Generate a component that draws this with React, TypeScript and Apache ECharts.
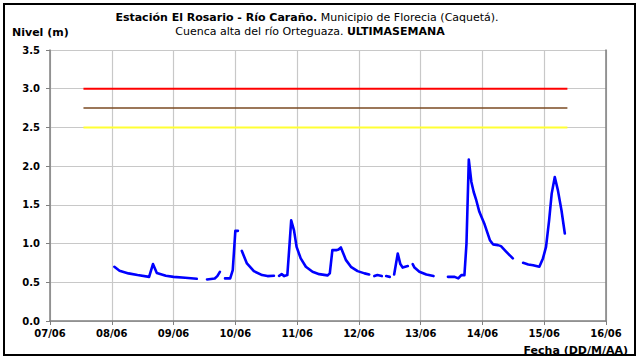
import React, { useEffect, useRef } from "react";
import * as echarts from "echarts";

// Hours since 07/06 00:00 (null level = gap in record)
const hours = [
  25, 27, 30.5, 34, 38.5, 40, 41.5, 45, 48, 52.5, 57, 59,
  61, 64, 65, 66, 66.8,
  68, 70, 71, 72, 73, 73.5,
  74.5, 76.5, 79.2, 82.4, 84.5, 87, 87.5,
  89, 90, 91, 92.2, 92.9, 93.7, 94.8, 95.8, 97.4, 99.4, 102, 104.6, 107.8, 108.7,
  109.7, 111.4, 112.1, 113, 115, 116.9, 119.5, 122.2, 124, 125,
  126, 127.2, 128.9, 129.8,
  130.6, 132, 132.8,
  133.7, 135.1, 136.1, 137, 139, 140,
  140.9, 141.6, 143.5, 146.2, 149, 151,
  154.6, 157.2, 158.6, 159.8, 161, 161.8, 162.7, 163.7, 164.6, 165.6, 166.8,
  168.7, 170.9, 172.1, 174, 175.2, 177.1, 179.8, 181.5,
  183.8, 185.8, 187.7, 190.1, 191.5, 192.7, 193.9, 194.9, 196.1, 197.3, 198.7, 200,
];
const levels = [
  0.70, 0.65, 0.615, 0.593, 0.57, 0.735, 0.62, 0.584, 0.57, 0.558, 0.545, null,
  0.537, 0.55, 0.58, 0.635, null,
  0.55, 0.55, 0.657, 1.164, 1.164, null,
  0.906, 0.743, 0.644, 0.593, 0.58, 0.584, null,
  0.584, 0.605, 0.58, 0.593, 0.915, 1.30, 1.17, 0.957, 0.808, 0.70, 0.635, 0.605, 0.589, 0.615,
  0.915, 0.915, 0.924, 0.95, 0.786, 0.70, 0.644, 0.615, 0.60, null,
  0.58, 0.593, 0.58, null,
  0.58, 0.57, null,
  0.60, 0.872, 0.735, 0.69, 0.71, null,
  0.735, 0.69, 0.635, 0.60, 0.58, null,
  0.57, 0.57, 0.55, 0.593, 0.593, 1.0, 2.084, 1.795, 1.666, 1.56, 1.41,
  1.26, 1.044, 0.99, 0.98, 0.967, 0.90, 0.808, null,
  0.751, 0.73, 0.72, 0.70, 0.808, 0.957, 1.30, 1.645, 1.86, 1.69, 1.43, 1.13,
];

const tickLabels = ["07/06", "08/06", "09/06", "10/06", "11/06", "12/06", "13/06", "14/06", "15/06", "16/06"];
const yTicks = [0, 0.5, 1, 1.5, 2, 2.5, 3, 3.5];

// Alert thresholds (m) and their drawn span (hours)
const thresholdSpan = [13, 201];
const redLevel = 3.0;
const brownLevel = 2.75;
const yellowLevel = 2.5;

const FONT = "DejaVu Sans";

export default function App() {
  const ref = useRef<HTMLDivElement>(null);
  useEffect(() => {
    document.body.style.margin = "0";
    const chart = echarts.init(ref.current!, null, { renderer: "svg" });
    const data = hours.map((h, i) => [h, levels[i]]);
    const thr = (v: number) => thresholdSpan.map((h) => [h, v]);
    chart.setOption({
      animation: false,
      backgroundColor: "#ffffff",
      grid: { left: 50, right: 34, top: 50, bottom: 43 },
      xAxis: {
        type: "value",
        min: 0,
        max: 216,
        interval: 24,
        axisLine: { show: true, lineStyle: { color: "#7f7f7f", width: 1.5 } },
        axisTick: { show: true, length: 4, lineStyle: { color: "#7f7f7f" } },
        splitLine: { show: true, lineStyle: { color: "#c8c8c8", width: 1.2 } },
        axisLabel: {
          margin: 7,
          fontFamily: FONT,
          fontWeight: "bold",
          fontSize: 10,
          color: "#000",
          formatter: (v: number) => tickLabels[Math.round(v / 24)] ?? "",
        },
      },
      yAxis: [
        {
          type: "value",
          min: 0,
          max: 3.5,
          interval: 0.5,
          axisLine: { show: true, lineStyle: { color: "#7f7f7f", width: 1.5 } },
          axisTick: { show: true, length: 4, lineStyle: { color: "#7f7f7f" } },
          splitLine: { show: true, lineStyle: { color: "#c8c8c8", width: 1.2 } },
          axisLabel: {
            margin: 10,
            fontFamily: FONT,
            fontWeight: "bold",
            fontSize: 10,
            color: "#000",
            formatter: (v: number) => (yTicks.includes(v) ? v.toFixed(1) : ""),
          },
        },
        {
          type: "value",
          position: "right",
          min: 0,
          max: 3.5,
          axisLine: { show: true, lineStyle: { color: "#7f7f7f", width: 1.5 } },
          axisTick: { show: false },
          axisLabel: { show: false },
          splitLine: { show: false },
        },
      ],
      series: [
        {
          type: "line",
          data: thr(redLevel),
          symbol: "none",
          lineStyle: { color: "#ff0000", width: 2 },
        },
        {
          type: "line",
          data: thr(brownLevel),
          symbol: "none",
          lineStyle: { color: "#7a4a22", width: 1.5 },
        },
        {
          type: "line",
          data: thr(yellowLevel),
          symbol: "none",
          lineStyle: { color: "#ffff33", width: 2 },
        },
        {
          type: "line",
          data,
          symbol: "none",
          connectNulls: false,
          lineStyle: { color: "#0000ff", width: 2.6, join: "round", cap: "round" },
        },
      ],
      graphic: [
        {
          type: "rect",
          shape: { x: 4, y: 4, width: 631, height: 351 },
          style: { fill: "none", stroke: "#000", lineWidth: 2 },
          silent: true,
        },
        {
          type: "text",
          x: 307,
          y: 17,
          style: {
            text: "{b|Estación El Rosario - Río Caraño.}{n| Municipio de Florecia (Caquetá).}",
            align: "center",
            verticalAlign: "middle",
            rich: {
              b: { fontFamily: FONT, fontWeight: "bold", fontSize: 11, fill: "#000" },
              n: { fontFamily: FONT, fontSize: 11, fill: "#000" },
            },
          },
        },
        {
          type: "text",
          x: 310,
          y: 31,
          style: {
            text: "{n|Cuenca alta del río Orteguaza. }{b|ULTIMASEMANA}",
            align: "center",
            verticalAlign: "middle",
            rich: {
              b: { fontFamily: FONT, fontWeight: "bold", fontSize: 11, fill: "#000" },
              n: { fontFamily: FONT, fontSize: 11, fill: "#000" },
            },
          },
        },
        {
          type: "text",
          x: 12,
          y: 32,
          style: {
            text: "Nivel (m)",
            fontFamily: FONT,
            fontWeight: "bold",
            fontSize: 11,
            fill: "#000",
            verticalAlign: "middle",
          },
        },
        {
          type: "text",
          x: 628,
          y: 350,
          style: {
            text: "Fecha (DD/M/AA)",
            fontFamily: FONT,
            fontWeight: "bold",
            fontSize: 11,
            fill: "#000",
            align: "right",
            verticalAlign: "middle",
          },
        },
      ],
    });
    return () => chart.dispose();
  }, []);
  return <div ref={ref} style={{ width: 640, height: 364 }} />;
}
